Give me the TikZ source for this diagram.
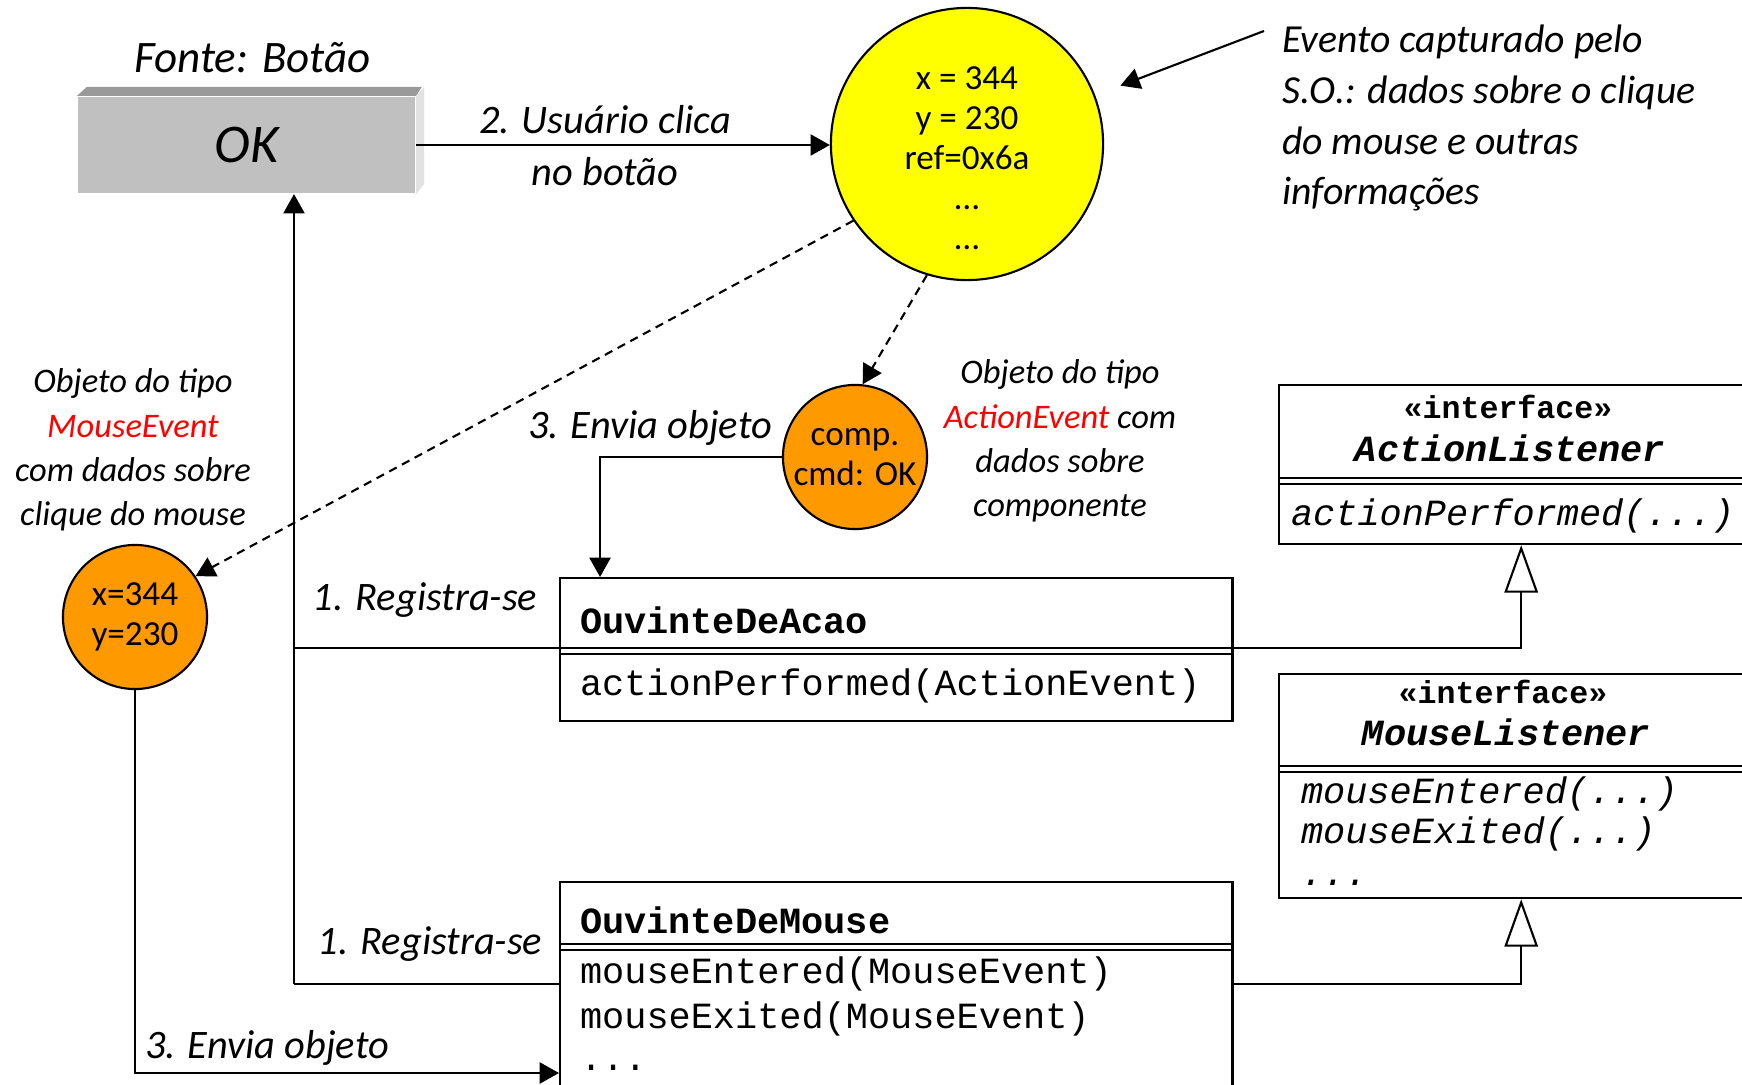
\documentclass[tikz,border=0pt]{standalone}
\usepackage{fontspec}
\setmainfont{Carlito}
\setmonofont{Liberation Mono}
\usetikzlibrary{arrows.meta,positioning,calc}

\definecolor{btnface}{HTML}{C0C0C0}
\definecolor{btntop}{HTML}{9A9A9A}
\definecolor{btnside}{HTML}{E2E2E2}
\definecolor{evyellow}{HTML}{FFFF00}
\definecolor{evorange}{HTML}{FF9900}

\begin{document}
\begin{tikzpicture}[
    x=0.01cm, y=-0.01cm,
    line width=0.6pt,
    lbl/.style={font=\fontsize{11.5}{14.8}\selectfont\itshape, inner sep=0pt, align=center},
    remark/.style={font=\fontsize{9.8}{12.6}\selectfont\itshape, inner sep=0pt, align=center},
    evdata/.style={font=\fontsize{10}{11.4}\selectfont, inner sep=0pt, align=center},
    evcirc/.style={circle, draw, inner sep=0pt},
    umlbox/.style={draw, anchor=north west, inner sep=0pt, minimum width=6.72cm},
    ifbox/.style={draw, anchor=north west, inner sep=0pt, minimum width=4.84cm},
    mono/.style={font=\fontsize{10.5}{12.8}\selectfont\ttfamily, inner sep=0pt, anchor=base west},
    stereo/.style={font=\fontsize{9}{11}\selectfont\ttfamily\bfseries, inner sep=0pt, anchor=base},
    arrow/.style={-{Triangle[length=5.5pt,width=6pt]}},
    dasharrow/.style={arrow, dash pattern=on 2.4pt off 1.7pt},
    realize/.style={-{Triangle[open,length=13.5pt,width=9.5pt,fill=white]}}
]
\useasboundingbox (0,0) rectangle (1742,1085);

% Source button
\node[fill=btnface, minimum width=3.37cm, minimum height=0.96cm,
      font=\fontsize{15.5}{17}\selectfont\itshape] (ok) at (246.5,145) {OK};
\fill[btntop] (ok.north west) -- ++(10,-9) -- ++(335,0) -- (ok.north east) -- cycle;
\fill[btnside] (ok.north east) -- ++(8,-9) -- ++(0,97) -- (ok.south east) -- cycle;
\node[lbl, above=0.22cm of ok, xshift=0.06cm, font=\fontsize{12.8}{15}\selectfont\itshape] (src) {Fonte: Botão};

% Event captured by the OS
\node[evcirc, fill=evyellow, minimum size=2.72cm] (evt) at (967,144) {};
\node[evdata] (evtdata) at (967,158) {x = 344\\y = 230\\ref=0x6a\\\dots\\\dots};
\node[lbl, anchor=west, align=left, font=\fontsize{11.3}{14.5}\selectfont\itshape] (osnote) at (1281,118)
    {Evento capturado pelo\\S.O.: dados sobre o clique\\do mouse e outras\\informações};
\coordinate (osarrow) at (1264,31);
\draw[arrow, shorten >=0.27cm] (osarrow) -- (evt);

\draw[arrow] (ok.east) -- (ok.east -| evt.west);
\node[lbl] (click) at (605,146) {2. Usuário clica\\no botão};

% Event objects
\node[evcirc, fill=evorange, minimum size=1.44cm, evdata] (aev) at (855,457) {comp.\\cmd: OK};
\node[evcirc, fill=evorange, minimum size=1.44cm, evdata] (mev) at (135,617) {x=344\\y=230};
\draw[dasharrow] (evt.253) -- (aev.84);
\draw[dasharrow] (evt.214) -- (mev.34);

\node[remark] (aevnote) at (1060,441) {Objeto do tipo\\{\color{red}ActionEvent} com\\dados sobre\\componente};
\node[remark] (mevnote) at (133,450) {Objeto do tipo\\{\color{red}MouseEvent}\\com dados sobre\\clique do mouse};

% Listener classes and interfaces
\node[umlbox, minimum height=1.43cm] (acao) at (559,577) {};
\node[umlbox, minimum height=2.3cm] (mouse) at (559,881) {};
\node[ifbox, minimum height=1.59cm] (alis) at (1278,384) {};
\node[ifbox, minimum height=2.24cm] (mlis) at (1278,673) {};

\foreach \b/\d in {acao/71, mouse/63, alis/94, mlis/93} {
    \draw ($(\b.north west)+(0,\d)$) -- ($(\b.north east)+(0,\d)$);
    \draw ($(\b.north west)+(0,\d+6)$) -- ($(\b.north east)+(0,\d+6)$);
}

\node[mono] (acaoname) at ($(acao.north west)+(20,56)$) {\bfseries OuvinteDeAcao};
\node[mono] (acaoop) at ($(acao.north west)+(20,118)$) {actionPerformed(ActionEvent)};

\node[mono] (mousename) at ($(mouse.north west)+(20,52)$) {\bfseries OuvinteDeMouse};
\node[mono] (mouseop1) at ($(mouse.north west)+(20,102)$) {mouseEntered(MouseEvent)};
\node[mono] (mouseop2) at ($(mouse.north west)+(20,147)$) {mouseExited(MouseEvent)};
\node[mono] (mouseop3) at ($(mouse.north west)+(20,189)$) {...};

\node[stereo] (alisstereo) at ($(alis.north west)+(230,35)$) {«interface»};
\node[mono, anchor=base] (alisname) at ($(alis.north west)+(232,77)$) {\bfseries\itshape ActionListener};
\node[mono] (alisop) at ($(alis.north west)+(12,141)$) {\itshape actionPerformed(...)};

\node[stereo] (mlisstereo) at ($(mlis.north west)+(225,30)$) {«interface»};
\node[mono, anchor=base] (mlisname) at ($(mlis.north west)+(228,72)$) {\bfseries\itshape MouseListener};
\node[mono] (mlisop1) at ($(mlis.north west)+(22,130)$) {\itshape mouseEntered(...)};
\node[mono] (mlisop2) at ($(mlis.north west)+(22,170)$) {\itshape mouseExited(...)};
\node[mono] (mlisop3) at ($(mlis.north west)+(22,212)$) {\itshape ...};

% Registration and dispatch
\coordinate (regbus) at (294,984);
\coordinate (acaosep) at ($(acao.north west)+(0,71)$);
\draw[arrow] (regbus) -- (regbus |- ok.south);
\draw (acaosep -| regbus) -- (acaosep);
\draw (regbus) -- (regbus -| mouse.west);
\draw[realize] (acaosep -| acao.east) -| (alis.south);
\draw[realize] (regbus -| mouse.east) -| (mlis.south);

\draw[arrow] (aev.west) -| ([xshift=0.41cm]acao.north west);
\draw[arrow] (mev.south) |- ($(mouse.north west)+(0,192)$);

\node[lbl] (reg1) at (425,600) {1. Registra-se};
\node[lbl] (reg2) at (430,944) {1. Registra-se};
\node[lbl] (send1) at (650,428) {3. Envia objeto};
\node[lbl] (send2) at (267,1048) {3. Envia objeto};

\end{tikzpicture}
\end{document}
